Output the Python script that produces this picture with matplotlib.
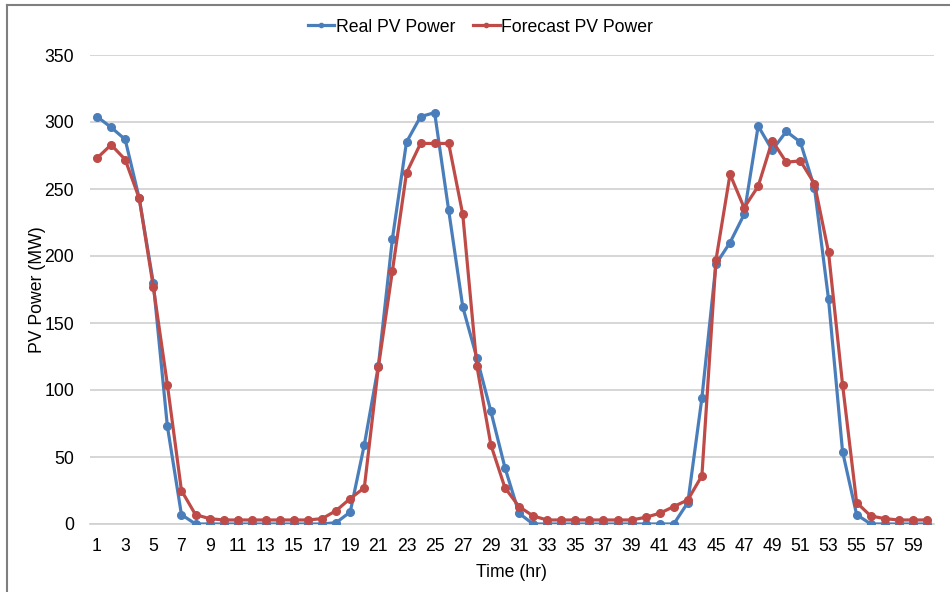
import matplotlib
matplotlib.use("Agg")
import matplotlib.pyplot as plt
from matplotlib.lines import Line2D

hours = list(range(1, 61))
real_pv = [304, 296, 287, 243, 180, 73, 7, 0, 0, 0,
           0, 0, 0, 0, 0, 0, 0, 1, 9, 59,
           118, 213, 285, 304, 307, 234, 162, 124, 84, 42,
           8, 0, 0, 0, 0, 0, 0, 0, 0, 0,
           0, 0, 16, 94, 194, 210, 231, 297, 279, 293,
           285, 251, 168, 54, 7, 0, 0, 0, 0, 0]
forecast_pv = [273, 283, 272, 243, 177, 104, 25, 7, 4, 3,
               3, 3, 3, 3, 3, 3, 4, 10, 19, 27,
               117, 189, 262, 284, 284, 284, 231, 118, 59, 27,
               13, 6, 3, 3, 3, 3, 3, 3, 3, 5,
               8, 13, 18, 36, 197, 261, 236, 252, 286, 270,
               271, 254, 203, 104, 16, 6, 4, 3, 3, 3]
xtick_labels = [str(h) for h in range(1, 61, 2)]
yticks = [0, 50, 100, 150, 200, 250, 300, 350]

plt.rcParams['font.family'] = ['Liberation Sans', 'DejaVu Sans']
FS = 12.7

fig = plt.figure(figsize=(9.5, 5.92), dpi=100)
W, H = 950, 592
ax = fig.add_axes([90 / W, 1 - 524 / H, (934 - 90) / W, (524 - 55) / H])

blue = '#4a7ebb'
red = '#be4b48'
ax.plot(hours, real_pv, color=blue, lw=2.3, marker='o', ms=5.5, label='Real PV Power', zorder=3)
ax.plot(hours, forecast_pv, color=red, lw=2.3, marker='o', ms=5.5, label='Forecast PV Power', zorder=4)

ax.set_xlim(0.5, 60.5)
ax.set_ylim(0, 350)
ax.set_yticks(yticks)
ax.set_xticks(list(range(1, 61, 2)))
ax.set_xticklabels(xtick_labels)
ax.grid(axis='y', color='#d0d0d0', lw=1.2)
ax.set_axisbelow(True)
for s in ['top', 'right', 'left']:
    ax.spines[s].set_visible(False)
ax.spines['bottom'].set_color('#d0d0d0')
ax.spines['bottom'].set_linewidth(1.2)
ax.tick_params(axis='both', length=0, labelsize=FS, colors='black')
ax.tick_params(axis='y', pad=11.5)
ax.tick_params(axis='x', pad=10)
ax.set_xlabel('Time (hr)', fontsize=FS, labelpad=6.5)
ax.set_ylabel('PV Power (MW)', fontsize=FS, labelpad=-1.5)

fig.legend(*ax.get_legend_handles_labels(), loc='center',
           bbox_to_anchor=(480.5 / W, 1 - 27 / H),
           ncol=2, frameon=False, fontsize=FS, handlelength=1.5, handletextpad=0.1,
           columnspacing=1.0, markerscale=0.55, borderpad=0)

fig.add_artist(Line2D([7 / W, 7 / W], [0, 1 - 5 / H], color='#7f7f7f', lw=1.5, transform=fig.transFigure))
fig.add_artist(Line2D([7 / W, 1], [1 - 5 / H, 1 - 5 / H], color='#7f7f7f', lw=1.5, transform=fig.transFigure))

fig.savefig('out.png', dpi=100)
